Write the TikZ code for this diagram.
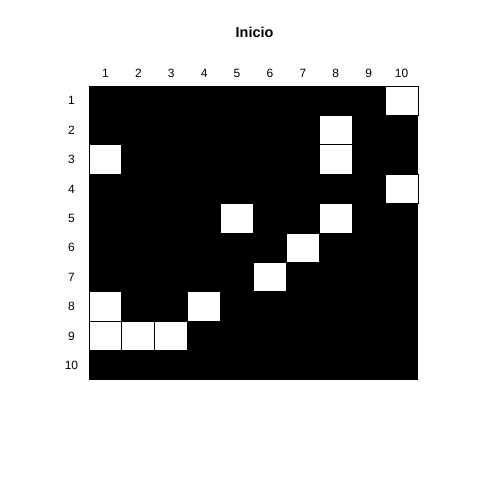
\documentclass[tikz,border=0pt]{standalone}
\usepackage{fontspec}
\setmainfont{Liberation Sans}
\begin{document}
\begin{tikzpicture}[x=1pt,y=-1pt,
  lbl/.style={font=\fontsize{12}{14}\selectfont, inner sep=0pt, anchor=center},
  ttl/.style={font=\fontsize{14.4}{17}\selectfont\bfseries, inner sep=0pt, anchor=center},
  wht/.style={fill=white, draw=black, line width=1pt}]
\useasboundingbox (0,0) rectangle (480,480);
\fill[white] (0,0) rectangle (480,480);
\def\gx{89}\def\gy{86}\def\cw{32.9}\def\ch{29.4}
\fill[black] (\gx,\gy) rectangle ({\gx+10*\cw},{\gy+10*\ch});
\foreach \r/\c in {1/10,2/8,3/1,3/8,4/10,5/5,5/8,6/7,7/6,8/1,8/4,9/1,9/2,9/3}{
  \draw[wht] ({\gx+(\c-1)*\cw},{\gy+(\r-1)*\ch}) rectangle ({\gx+\c*\cw},{\gy+\r*\ch});
}
\foreach \i in {1,...,10}{
  \node[lbl] (c\i) at ({\gx+(\i-0.5)*\cw},73) {\i};
  \node[lbl] (r\i) at (71.5,{\gy+(\i-0.5)*\ch}) {\i};
}
\node[ttl] (title) at (254.5,32) {Inicio};
\end{tikzpicture}
\end{document}
